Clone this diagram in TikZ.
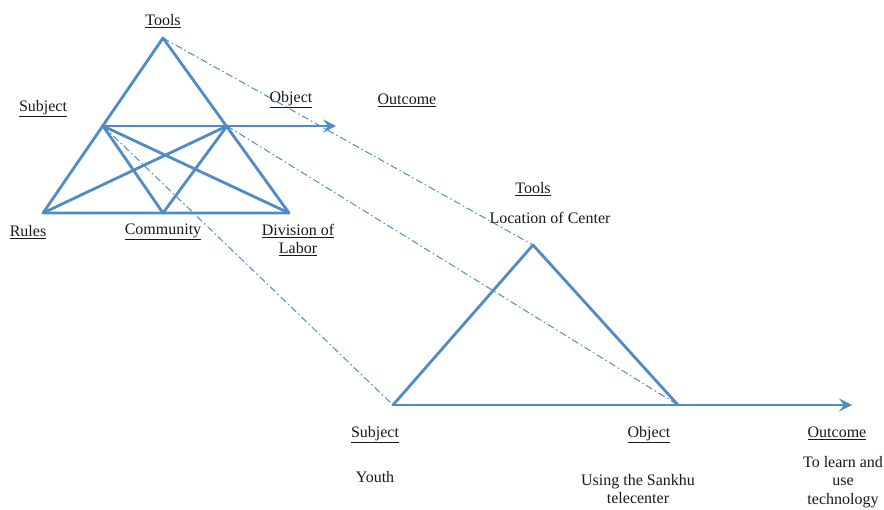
\documentclass[tikz,border=0pt]{standalone}
\usepackage{fontspec}
\setmainfont{Liberation Serif}
\usetikzlibrary{arrows.meta}
\definecolor{lineblue}{RGB}{79,139,196}
\definecolor{txt}{RGB}{25,25,25}
\tikzset{
  edge/.style={draw=lineblue,line width=2.8pt,line cap=round,line join=round},
  link/.style={draw=lineblue,line width=1pt,dash pattern=on 7pt off 3pt on 1.5pt off 3pt},
  lbl/.style={font=\fontsize{16}{18.5}\selectfont,text=txt,inner sep=0pt,align=center},
  arr/.style={edge,-{Stealth[length=13pt,width=13pt,inset=5pt]}}
}
\begin{document}
\begin{tikzpicture}[x=1pt,y=-1pt]
\useasboundingbox (0,0) rectangle (884,510);
% first triangle
\coordinate (T) at (163,38);
\coordinate (R) at (43,213);
\coordinate (D) at (289,213);
\coordinate (C) at (163,213);
\coordinate (S) at (103,126);
\coordinate (O) at (227,126);
\coordinate (E) at (336,126);
% second triangle
\coordinate (T2) at (533,245);
\coordinate (S2) at (393,405);
\coordinate (O2) at (678,405);
\coordinate (E2) at (852,405);
% dash-dot links
\draw[link] (T) -- (T2);
\draw[link] (O) -- (O2);
\draw[link] (S) -- (S2);
% edges
\draw[edge] (R) -- (T) -- (D) -- cycle;
\draw[edge] (S) -- (C) -- (O);
\draw[edge] (S) -- (D);
\draw[edge] (O) -- (R);
\draw[arr] (S) -- (E);
\draw[edge] (S2) -- (T2) -- (O2);
\draw[arr] (S2) -- (E2);
% labels top
\node[lbl] (lTools) at (163,21) {\underline{Tools}};
\node[lbl] (lSubj) at (43,109) {\underline{Subject}};
\node[lbl] (lObj) at (291,100) {\underline{Object}};
\node[lbl] (lOut) at (407,100) {\underline{Outcome}};
\node[lbl] (lRules) at (28,232) {\underline{Rules}};
\node[lbl] (lComm) at (163,232) {\underline{Community}};
\node[lbl,anchor=north] (lDiv) at (298,224) {\underline{Division of}\\\underline{Labor}};
% labels bottom
\node[lbl] (lTools2) at (533,189) {\underline{Tools}};
\node[lbl] (lLoc) at (550,218) {Location of Center};
\node[lbl] (lSubj2) at (375,435) {\underline{Subject}};
\node[lbl] (lYouth) at (375,477) {Youth};
\node[lbl] (lObj2) at (649,435) {\underline{Object}};
\node[lbl,anchor=north] (lUse) at (638,474) {Using the Sankhu\\telecenter};
\node[lbl,anchor=north] (lOut2) at (837,427) {\underline{Outcome}};
\node[lbl,anchor=north] (lLearn) at (843,456) {To learn and\\use\\technology};
\end{tikzpicture}
\end{document}
